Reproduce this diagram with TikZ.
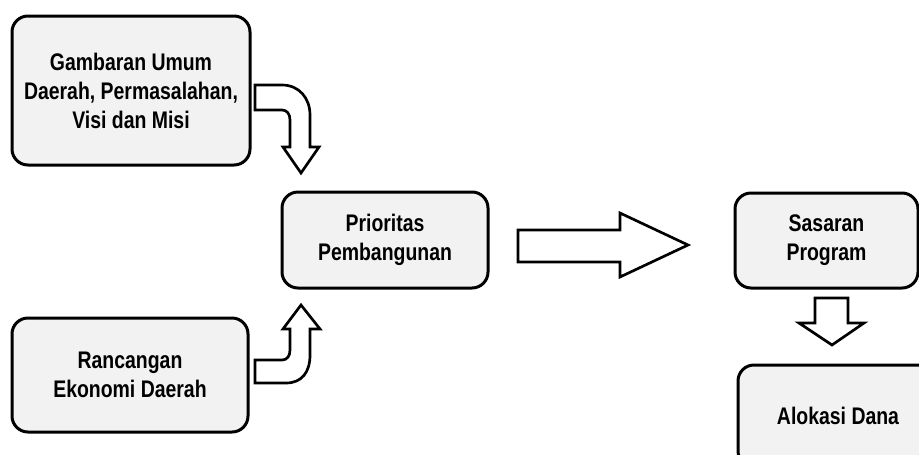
\documentclass[tikz,border=0pt]{standalone}
\usepackage{fontspec}
\setmainfont{Liberation Sans}[FakeStretch=0.81]
\definecolor{boxgray}{HTML}{F2F2F2}
\begin{document}
\begin{tikzpicture}[x=0.75pt, y=-0.75pt,
  box/.style={rounded corners=12pt, draw, line width=2.25pt, fill=boxgray,
    align=center, font=\fontsize{18}{21.75}\selectfont\bfseries, inner sep=0pt},
  blockarrow/.style={draw, line width=2pt, fill=white, line join=miter}]

\clip (0,0) rectangle (919,454);

\node [box, minimum width=178.5pt, minimum height=111.75pt] (gambar) at (131,90.5) {Gambaran Umum\\Daerah, Permasalahan,\\Visi dan Misi};
\node [box, minimum width=177pt, minimum height=85.5pt] (rancang) at (130,375) {Rancangan\\Ekonomi Daerah};
\node [box, minimum width=154.5pt, minimum height=72pt] (prior) at (385,240) {Prioritas\\Pembangunan};
\node [box, minimum width=137.25pt, minimum height=71.25pt] (sasaran) at (826.5,240.5) {Sasaran\\Program};
\node [box, minimum width=150pt, minimum height=76.5pt] (alokasi) at (838,416) {Alokasi Dana};

% curved arrow from the top box down to the priorities
\draw [blockarrow] (255,85) -- (282,85) .. controls (299,85) and (310,98) .. (310,115)
  -- (310,147) -- (319,147) -- (301,173) -- (283,147) -- (290,147) -- (290,120)
  .. controls (290,114) and (287,110) .. (282,110) -- (255,110) -- cycle;

% curved arrow from the bottom box up to the priorities
\draw [blockarrow] (255,360) -- (282,360) .. controls (287,360) and (290,356) .. (290,350)
  -- (290,329) -- (283,329) -- (301,305) -- (320,329) -- (310,329) -- (310,355)
  .. controls (310,372) and (302,383) .. (286,383) -- (255,383) -- cycle;

% big arrow to the right
\draw [blockarrow] (518,230) -- (620,230) -- (620,213) -- (688,245) -- (620,277)
  -- (620,262) -- (518,262) -- cycle;

% down arrow
\draw [blockarrow] (815,298) -- (848,298) -- (848,323) -- (864,323) -- (832,345)
  -- (799,323) -- (815,323) -- cycle;
\end{tikzpicture}
\end{document}
